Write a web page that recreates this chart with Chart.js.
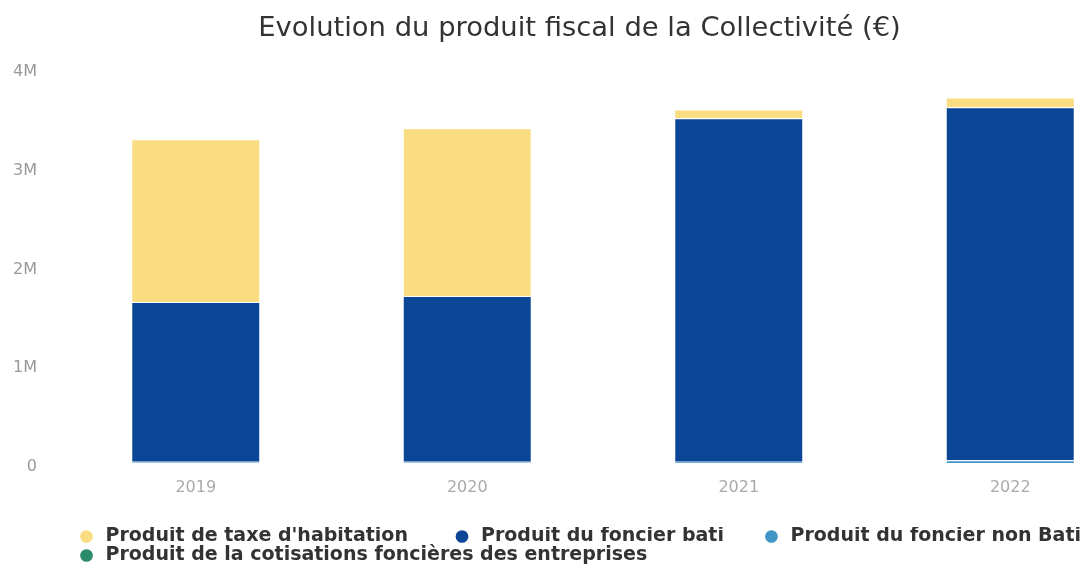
<!DOCTYPE html>
<html>
<head>
<meta charset="utf-8">
<script src="https://cdn.jsdelivr.net/npm/chart.js@4.4.1/dist/chart.umd.min.js"></script>
<style>
  html, body { margin: 0; padding: 0; background: #fff; overflow: hidden; }
  #wrap { position: relative; width: 1160px; height: 575px; }
</style>
</head>
<body>
<div id="wrap"><canvas id="produitFiscal"></canvas></div>
<script>
// produit fiscal par annee (en euros)
var years = ['2019', '2020', '2021', '2022'];
var habitation = [1650000, 1700000, 90000, 100000];
var foncierBati = [1620000, 1680000, 3480000, 3577000];
var foncierNonBati = [12000, 12000, 13000, 28000];
var cotisations = [0, 0, 0, 0];
var yTickLabels = ['0', '1M', '2M', '3M', '4M'];

var fontFamily = "'DejaVu Sans', Verdana, sans-serif";

// empilement de bas en haut : cotisations, non bati, bati, habitation
// la legende les affiche dans l'autre sens
var legendOrder = [3, 2, 1, 0];

// decale la legende pour l'aligner sous les barres
var legendInset = {
    id: 'legendInset',
    afterLayout: function (chart) {
        chart.legend.left += 17;
        chart.legend.right += 17;
    }
};

var ctx = document.getElementById('produitFiscal');
var chart = new Chart(ctx, {
    type: 'bar',
    data: {
        labels: years,
        datasets: [{
                label: 'Produit de la cotisations foncières des entreprises',
                data: cotisations,
                backgroundColor: '#2b8a68',
                borderColor: '#ffffff',
                borderWidth: 1
            },
            {
                label: 'Produit du foncier non Bati',
                data: foncierNonBati,
                backgroundColor: '#4096c6',
                borderColor: '#ffffff',
                borderWidth: 1
            },
            {
                label: 'Produit du foncier bati',
                data: foncierBati,
                backgroundColor: '#0b4596',
                borderColor: '#ffffff',
                borderWidth: 1
            },
            {
                label: "Produit de taxe d'habitation",
                data: habitation,
                backgroundColor: '#f9dd80',
                borderColor: '#ffffff',
                borderWidth: 1
            }
        ]
    },
    options: {
        responsive: true,
        maintainAspectRatio: false,
        animation: false,
        layout: { padding: { left: 13, right: 14, top: 0, bottom: 0 } },
        datasets: { bar: { categoryPercentage: 1, barPercentage: 0.475 } },
        plugins: {
            title: {
                display: true,
                text: 'Evolution du produit fiscal de la Collectivité (€)',
                color: '#333333',
                font: { family: fontFamily, size: 27.4, weight: 'normal' },
                padding: { top: 12, bottom: 23.4 }
            },
            legend: {
                position: 'bottom',
                align: 'start',
                fullSize: false,
                labels: {
                    usePointStyle: true,
                    pointStyle: 'circle',
                    boxWidth: 19,
                    boxHeight: 9,
                    padding: 0,
                    color: '#333333',
                    font: { family: fontFamily, size: 19, weight: 'bold' },
                    generateLabels: function (chart) {
                        var items = Chart.defaults.plugins.legend.labels.generateLabels(chart);
                        items.forEach(function (item) {
                            item.lineWidth = 0;
                            if (item.datasetIndex === 3) {
                                item.text += '\u2003\u2003 ';
                            } else if (item.datasetIndex === 2) {
                                item.text += '\u2003\u2003';
                            }
                        });
                        return items;
                    },
                    sort: function (a, b) {
                        return legendOrder.indexOf(a.datasetIndex) - legendOrder.indexOf(b.datasetIndex);
                    }
                }
            },
            tooltip: { enabled: false }
        },
        scales: {
            x: {
                stacked: true,
                grid: { display: false, drawTicks: false },
                border: { display: false },
                ticks: { color: '#aaaaaa', font: { family: fontFamily, size: 16 }, padding: 15 },
                afterFit: function (scale) { scale.height = 64; }
            },
            y: {
                stacked: true,
                min: 0,
                max: 4000000,
                grid: { display: false, drawTicks: false },
                border: { display: false },
                ticks: {
                    stepSize: 1000000,
                    color: '#999999',
                    font: { family: fontFamily, size: 16 },
                    padding: 23,
                    labelOffset: 4,
                    callback: function (value) { return yTickLabels[value / 1000000]; }
                },
                afterFit: function (scale) { scale.width = 47; }
            }
        }
    },
    plugins: [legendInset]
});
</script>
</body>
</html>
